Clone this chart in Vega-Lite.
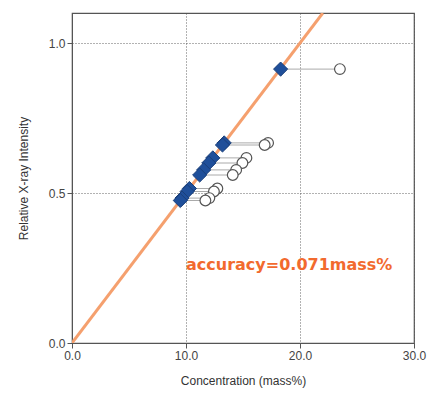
{
  "$schema": "https://vega.github.io/schema/vega-lite/v6.json",
  "width": 342,
  "height": 330,
  "autosize": "none",
  "padding": {"left": 72, "top": 13, "right": 19, "bottom": 51},
  "background": "white",
  "config": {
    "view": {"stroke": "#555555", "strokeWidth": 1.2},
    "axis": {
      "labelFont": "Liberation Sans",
      "titleFont": "Liberation Sans",
      "labelFontSize": 12,
      "titleFontSize": 12,
      "labelColor": "#444444",
      "titleColor": "#333333",
      "titleFontWeight": "normal",
      "domainColor": "#555555",
      "tickColor": "#555555",
      "gridColor": "#555555",
      "gridDash": [1, 2],
      "gridWidth": 1,
      "gridOpacity": 0.9,
      "tickSize": 5,
      "labelFlush": false
    }
  },
  "datasets": {
    "pairs": [
      {"intensity": 0.913, "line_conc": 18.3, "meas_conc": 23.5},
      {"intensity": 0.667, "line_conc": 13.35, "meas_conc": 17.2},
      {"intensity": 0.66, "line_conc": 13.2, "meas_conc": 16.9},
      {"intensity": 0.617, "line_conc": 12.35, "meas_conc": 15.3},
      {"intensity": 0.6, "line_conc": 12.0, "meas_conc": 14.95},
      {"intensity": 0.577, "line_conc": 11.55, "meas_conc": 14.4},
      {"intensity": 0.56, "line_conc": 11.2, "meas_conc": 14.1},
      {"intensity": 0.515, "line_conc": 10.3, "meas_conc": 12.75},
      {"intensity": 0.505, "line_conc": 10.1, "meas_conc": 12.45},
      {"intensity": 0.483, "line_conc": 9.65, "meas_conc": 12.05},
      {"intensity": 0.475, "line_conc": 9.5, "meas_conc": 11.7}
    ],
    "calib": [
      {"conc": 0, "intensity": 0},
      {"conc": 22.0, "intensity": 1.1}
    ],
    "label": [
      {"conc": 10.0, "intensity": 0.26, "text": "accuracy=0.071mass%"}
    ]
  },
  "layer": [
    {
      "data": {"name": "calib"},
      "mark": {"type": "line", "color": "#f5a06e", "strokeWidth": 3, "clip": true},
      "encoding": {
        "x": {
          "field": "conc", "type": "quantitative",
          "scale": {"domain": [0, 30], "nice": false},
          "axis": {"values": [0, 10, 20, 30], "format": ".1f", "title": "Concentration (mass%)", "titlePadding": 14, "labelPadding": 2}
        },
        "y": {
          "field": "intensity", "type": "quantitative",
          "scale": {"domain": [0, 1.1], "nice": false},
          "axis": {"values": [0, 0.5, 1.0], "format": ".1f", "title": "Relative X-ray Intensity", "titlePadding": 18, "labelPadding": 2}
        }
      }
    },
    {
      "data": {"name": "pairs"},
      "mark": {"type": "rule", "color": "#aaaaaa", "strokeWidth": 1},
      "encoding": {
        "x": {"field": "line_conc", "type": "quantitative"},
        "x2": {"field": "meas_conc"},
        "y": {"field": "intensity", "type": "quantitative"}
      }
    },
    {
      "data": {"name": "pairs"},
      "mark": {"type": "point", "shape": "circle", "filled": true, "fill": "white", "stroke": "#555555", "strokeWidth": 1.2, "size": 115, "opacity": 1},
      "encoding": {
        "x": {"field": "meas_conc", "type": "quantitative"},
        "y": {"field": "intensity", "type": "quantitative"}
      }
    },
    {
      "data": {"name": "pairs"},
      "mark": {"type": "point", "shape": "diamond", "filled": true, "fill": "#1f4f9a", "stroke": "#1a3f7a", "strokeWidth": 1, "size": 200, "opacity": 1},
      "encoding": {
        "x": {"field": "line_conc", "type": "quantitative"},
        "y": {"field": "intensity", "type": "quantitative"}
      }
    },
    {
      "data": {"name": "label"},
      "mark": {"type": "text", "align": "left", "baseline": "middle", "font": "DejaVu Sans", "fontWeight": "bold", "fontSize": 16, "color": "#f26a2e"},
      "encoding": {
        "x": {"field": "conc", "type": "quantitative"},
        "y": {"field": "intensity", "type": "quantitative"},
        "text": {"field": "text"}
      }
    }
  ]
}
